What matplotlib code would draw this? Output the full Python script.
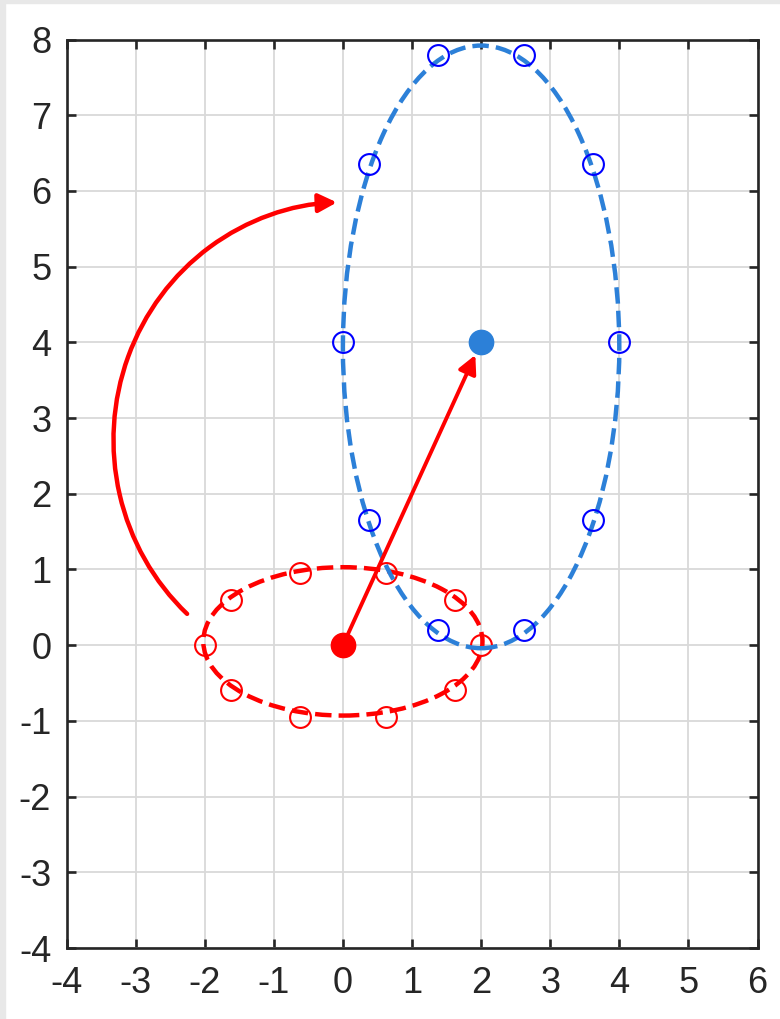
import matplotlib
matplotlib.use('Agg')
import matplotlib.pyplot as plt
from matplotlib.patches import Ellipse, FancyArrowPatch, Rectangle
from matplotlib.path import Path
from matplotlib.transforms import Affine2D

# points on the original ellipse (red) and after the transform (blue)
red_x = [2.0, 1.62, 0.62, -0.62, -1.62, -2.0, -1.62, -0.62, 0.62, 1.62]
red_y = [0.0, 0.59, 0.95, 0.95, 0.59, 0.0, -0.59, -0.95, -0.95, -0.59]
blue_x = [4.0, 3.62, 2.62, 1.38, 0.38, 0.0, 0.38, 1.38, 2.62, 3.62]
blue_y = [4.0, 6.35, 7.8, 7.8, 6.35, 4.0, 1.65, 0.2, 0.2, 1.65]

red_center = (0, 0)
blue_center = (2, 4)
# dashed ellipses: center x, center y, width, height
red_ellipse = (0.0, 0.05, 4.04, 1.96)
blue_ellipse = (2.0, 3.94, 4.0, 7.96)

# curved arrow: elliptical arc (center, radii, start/end angle in degrees)
arc_center = (0.03, 2.71)
arc_radii = (3.35, 3.14)
arc_angles = (92, 227)

xticks = list(range(-4, 7))
yticks = list(range(-4, 9))

RED = '#ff0000'
BLUE_LINE = '#2c80d8'
DARK = '#262626'

plt.rcParams['font.family'] = ['Liberation Sans', 'DejaVu Sans']
plt.rcParams['axes.unicode_minus'] = False

fig = plt.figure(figsize=(7.8, 10.19), dpi=100)
# light grey strips at the top and left edge of the screenshot
fig.patches.append(Rectangle((0, 0), 5 / 780, 1, transform=fig.transFigure,
                             color='#e8e8e8', zorder=-10))
fig.patches.append(Rectangle((0, 1 - 3 / 1019), 1, 3 / 1019, transform=fig.transFigure,
                             color='#e8e8e8', zorder=-10))

ax = fig.add_axes([66.5 / 780, 71 / 1019, 691 / 780, 908.5 / 1019])

ax.add_patch(Ellipse(red_ellipse[:2], red_ellipse[2], red_ellipse[3], fill=False,
                     edgecolor=RED, lw=3.2, ls='--', zorder=3))
ax.plot(red_x, red_y, 'o', ms=15, mfc='none', mec=RED, mew=1.5, zorder=4)
ax.plot(*red_center, 'o', ms=17.5, color=RED, zorder=6)

ax.add_patch(Ellipse(blue_ellipse[:2], blue_ellipse[2], blue_ellipse[3], fill=False,
                     edgecolor=BLUE_LINE, lw=3.2, ls='--', zorder=4))
ax.plot(blue_x, blue_y, 'o', ms=15, mfc='none', mec='#0000ff', mew=1.5, zorder=5)
ax.plot(*blue_center, 'o', ms=17.5, color=BLUE_LINE, zorder=6)

head = '-|>,head_length=0.55,head_width=0.28'

ax.annotate('', xy=blue_center, xytext=red_center,
            arrowprops=dict(arrowstyle=head, color=RED, lw=2.8,
                            shrinkA=0, shrinkB=10, mutation_scale=20),
            zorder=5)

arc = Path.arc(arc_angles[0], arc_angles[1])
arc = Path(arc.vertices[::-1], arc.codes)
arc = arc.transformed(Affine2D().scale(*arc_radii).translate(*arc_center))
ax.add_patch(FancyArrowPatch(path=arc, arrowstyle=head, color=RED, lw=3.2,
                             mutation_scale=20, transform=ax.transData, zorder=5))

ax.set_xlim(-4, 6)
ax.set_ylim(-4, 8)
ax.set_xticks(xticks)
ax.set_yticks(yticks)
ax.grid(True, color='#d9d9d9', lw=1.3)
ax.set_axisbelow(True)
ax.tick_params(direction='in', top=True, right=True, length=6.5, width=1.9,
               color=DARK, labelcolor=DARK, labelsize=26)
ax.tick_params(axis='y', pad=11)
ax.tick_params(axis='x', pad=13)
for s in ax.spines.values():
    s.set_linewidth(1.9)
    s.set_color(DARK)

fig.savefig('out.png', dpi=100)
